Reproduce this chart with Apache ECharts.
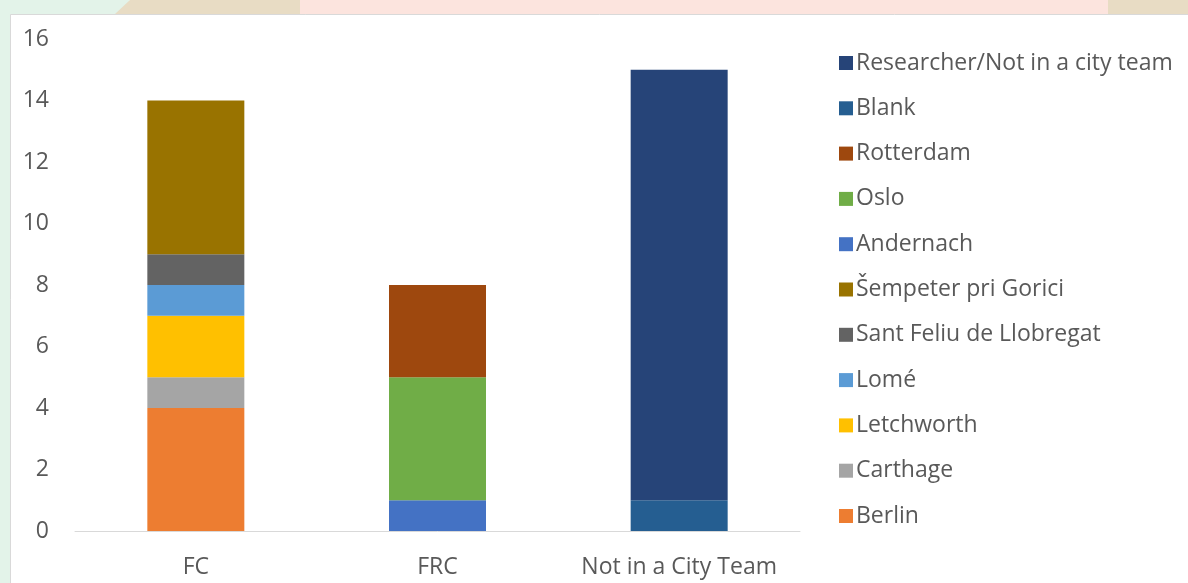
<!DOCTYPE html>
<html>
<head>
<meta charset="utf-8">
<script src="https://cdn.jsdelivr.net/npm/echarts@6/dist/echarts.min.js"></script>
<style>
html,body{margin:0;padding:0;background:#fff;}
#chart{width:1188px;height:583px;}
</style>
</head>
<body>
<div id="chart"></div>
<script>
const categories = ['FC', 'FRC', 'Not in a City Team'];
const yTicks = [0, 2, 4, 6, 8, 10, 12, 14, 16];

const berlin      = [4, 0, 0];
const carthage    = [1, 0, 0];
const letchworth  = [2, 0, 0];
const lome        = [1, 0, 0];
const santFeliu   = [1, 0, 0];
const sempeter    = [5, 0, 0];
const andernach   = [0, 1, 0];
const oslo        = [0, 4, 0];
const rotterdam   = [0, 3, 0];
const blank       = [0, 0, 1];
const researcher  = [0, 0, 14];

const seriesDefs = [
  ['Berlin', berlin, '#ED7D31'],
  ['Carthage', carthage, '#A5A5A5'],
  ['Letchworth', letchworth, '#FFC000'],
  ['Lomé', lome, '#5B9BD5'],
  ['Sant Feliu de Llobregat', santFeliu, '#636363'],
  ['Šempeter pri Gorici', sempeter, '#997300'],
  ['Andernach', andernach, '#4472C4'],
  ['Oslo', oslo, '#70AD47'],
  ['Rotterdam', rotterdam, '#9E480E'],
  ['Blank', blank, '#255E91'],
  ['Researcher/Not in a city team', researcher, '#264478']
];

const font = '"Open Sans", sans-serif';
const chart = echarts.init(document.getElementById('chart'));
chart.setOption({
  animation: false,
  backgroundColor: '#ffffff',
  graphic: [
    { type: 'polygon', z: -10, shape: { points: [[0,0],[130,0],[20,180],[10,583],[0,583]] }, style: { fill: '#e3f3e9' } },
    { type: 'polygon', z: -10, shape: { points: [[130,0],[320,0],[300,14],[115,14]] }, style: { fill: '#e8dcc4' } },
    { type: 'rect', z: -10, shape: { x: 300, y: 0, width: 810, height: 14 }, style: { fill: '#fce4de' } },
    { type: 'rect', z: -10, shape: { x: 1108, y: 0, width: 80, height: 14 }, style: { fill: '#e8dcc4' } },
    { type: 'rect', z: -9, shape: { x: 10.5, y: 14.5, width: 1190, height: 580 }, style: { fill: '#ffffff', stroke: '#d9d9d9', lineWidth: 1 } }
  ],
  grid: { left: 75, right: 388, top: 39, bottom: 52 },
  legend: {
    orient: 'vertical',
    left: 834,
    top: 46,
    itemWidth: 14,
    itemHeight: 14,
    itemGap: 21.3,
    icon: 'rect',
    itemStyle: { borderWidth: 0 },
    data: seriesDefs.map(d => d[0]).reverse(),
    textStyle: { fontSize: 23, color: '#595959', fontFamily: font, lineHeight: 24, padding: [0,0,0,-2] }
  },
  xAxis: {
    type: 'category',
    data: categories,
    axisLine: { lineStyle: { color: '#d9d9d9', width: 1 } },
    axisTick: { show: false },
    axisLabel: { fontSize: 23, color: '#595959', fontFamily: font, margin: 25, interval: 0, hideOverlap: false }
  },
  yAxis: {
    type: 'value',
    min: yTicks[0],
    max: yTicks[yTicks.length - 1],
    interval: 2,
    splitLine: { show: false },
    axisLine: { show: false },
    axisTick: { show: false },
    axisLabel: { fontSize: 23, color: '#595959', fontFamily: font, margin: 26 }
  },
  series: seriesDefs.map(([name, data, color]) => ({
    name, type: 'bar', stack: 'total', data,
    barWidth: 97,
    itemStyle: { color },
    emphasis: { disabled: true }
  }))
});
</script>
</body>
</html>
